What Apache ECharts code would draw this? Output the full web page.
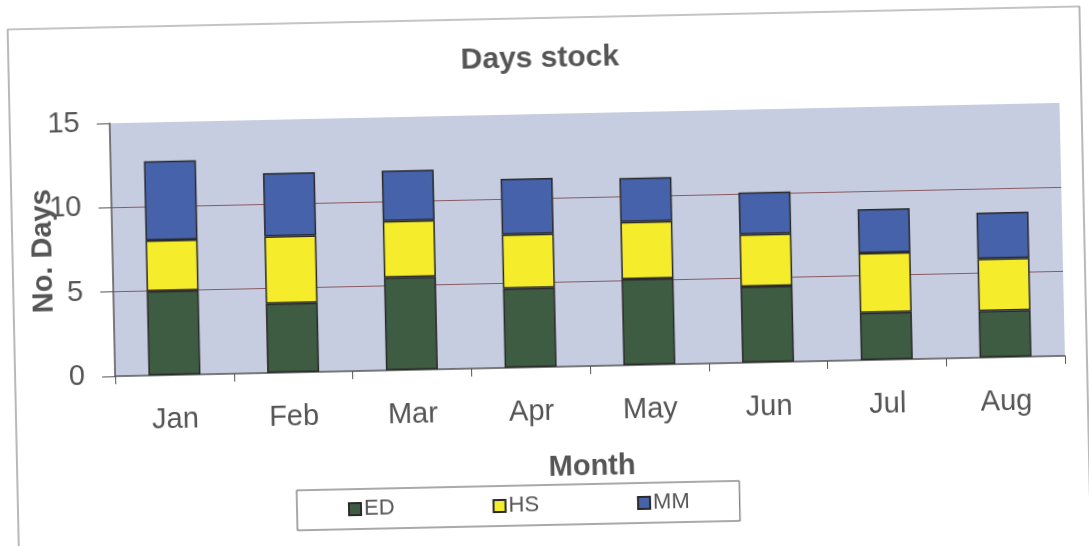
<!DOCTYPE html>
<html>
<head>
<meta charset="utf-8">
<script src="https://cdn.jsdelivr.net/npm/echarts@6/dist/echarts.min.js"></script>
<style>
html,body{margin:0;padding:0;background:#fff;overflow:hidden;}
#chart{width:1089px;height:546px;transform:rotate(-1.23deg);transform-origin:544px 273px;}
</style>
</head>
<body>
<div id="chart"></div>
<script>
const months = ['Jan','Feb','Mar','Apr','May','Jun','Jul','Aug'];
const ED = [5.0, 4.1, 5.5, 4.7, 5.1, 4.5, 2.8, 2.75];
const HS = [3.0, 4.0, 3.35, 3.2, 3.4, 3.1, 3.55, 3.1];
const MM = [4.7, 3.75, 3.0, 3.3, 2.6, 2.5, 2.6, 2.75];
const yTicks = [0, 5, 10, 15];

const FONT = 'Liberation Sans, Arial, sans-serif';
const TXT = '#555';
const chart = echarts.init(document.getElementById('chart'), null, {renderer:'canvas'});
const barStyle = c => ({color:c, borderColor:'#2a2a2a', borderWidth:1.5});
const option = {
  backgroundColor:'#fff',
  animation:false,
  textStyle:{fontFamily:FONT},
  title:{text:'Days stock', left:'center', top:39,
    textStyle:{fontSize:30, fontWeight:'bold', color:TXT, fontFamily:FONT}},
  graphic:[{type:'rect', shape:{x:13, y:18, width:1072, height:560},
    style:{fill:'none', stroke:'#8a8a8a', lineWidth:1.2}, silent:true, z:-1}],
  legend:{
    left:292, top:485,
    padding:[9, 50, 9, 51],
    itemWidth:12, itemHeight:12, itemGap:98,
    icon:'rect',
    borderColor:'#555', borderWidth:1,
    textStyle:{fontSize:22, color:TXT, fontFamily:FONT, padding:[0,0,0,-2]},
    data:['ED','HS','MM']
  },
  grid:{left:113, right:26, top:114, bottom:179, show:true,
    backgroundColor:'#c6cde1', borderWidth:0},
  xAxis:{
    type:'category', data:months,
    name:'Month', nameLocation:'middle', nameGap:86, nameMoveOverlap:false,
    nameTextStyle:{fontSize:29, fontWeight:'bold', color:TXT, fontFamily:FONT},
    axisLine:{lineStyle:{color:'#555', width:1.5}},
    axisTick:{show:true, length:8, lineStyle:{color:'#555'}},
    axisLabel:{fontSize:29, color:TXT, margin:30, fontFamily:FONT},
    splitLine:{show:false}
  },
  yAxis:{
    type:'value', min:yTicks[0], max:yTicks[yTicks.length-1], interval:5,
    name:'No. Days', nameLocation:'middle', nameGap:55, nameRotate:90, nameMoveOverlap:false,
    nameTextStyle:{fontSize:29, fontWeight:'bold', color:TXT, fontFamily:FONT},
    axisLine:{show:true, lineStyle:{color:'#555', width:1.5}},
    axisTick:{show:true, length:13, lineStyle:{color:'#555'}},
    axisLabel:{fontSize:29, color:TXT, margin:30, fontFamily:FONT},
    splitLine:{show:true, lineStyle:{color:['rgba(0,0,0,0)','#8a5a62','#8a5a62','rgba(0,0,0,0)'], width:1.2}}
  },
  series:[
    {name:'ED', type:'bar', stack:'s', data:ED, barWidth:52, itemStyle:barStyle('#3e5c42')},
    {name:'HS', type:'bar', stack:'s', data:HS, barWidth:52, itemStyle:barStyle('#f5ec2c')},
    {name:'MM', type:'bar', stack:'s', data:MM, barWidth:52, itemStyle:barStyle('#4562ab')}
  ]
};
chart.setOption(option);
</script>
</body>
</html>
